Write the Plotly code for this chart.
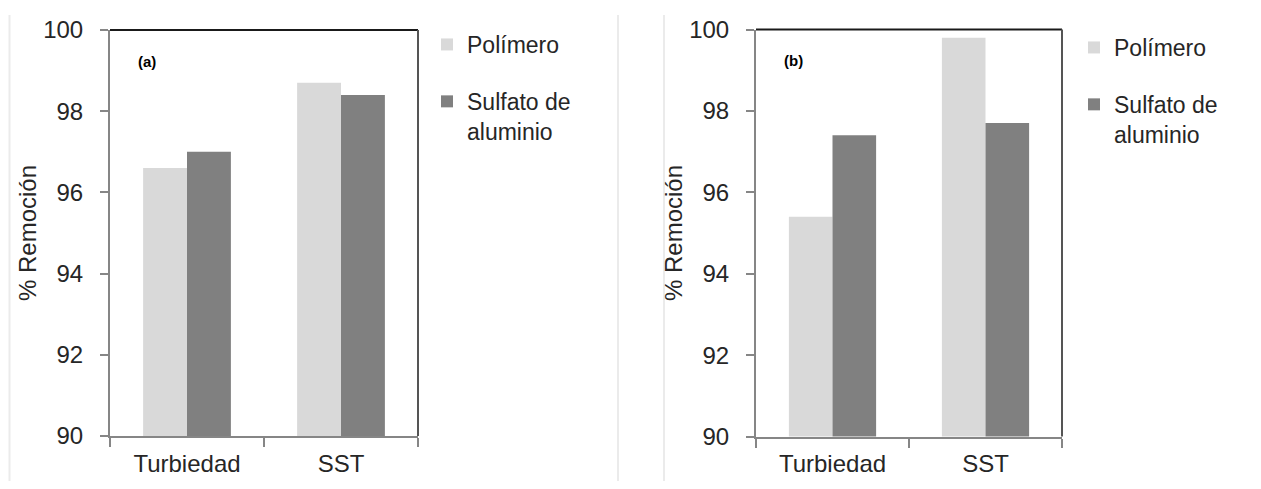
import plotly.graph_objects as go

categories = ["Turbiedad", "SST"]
polimero_a = [96.6, 98.7]
sulfato_a = [97.0, 98.4]
polimero_b = [95.4, 99.8]
sulfato_b = [97.4, 97.7]
series_names = ["Polímero", "Sulfato de<br>aluminio"]
panel_labels = ["(a)", "(b)"]
y_ticks = [90, 92, 94, 96, 98, 100]

# page body has an 8px margin: the figure sits at (8, 8) inside the 1261x489 window
OX, OY = 8, 8
W, H = 1261 - 2 * OX, 489 - 2 * OY


def fx(px):
    return (px - OX) / W


def fy(py):
    return 1 - (py - OY) / H


FONT = "Liberation Sans, Arial, sans-serif"
TXT = "#262626"
LIGHT = "#d9d9d9"
DARK = "#808080"
AXIS = "#868686"

fig = go.Figure()

for i, (p, s) in enumerate([(polimero_a, sulfato_a), (polimero_b, sulfato_b)]):
    xa = "x" if i == 0 else "x2"
    ya = "y" if i == 0 else "y2"
    lg = "legend" if i == 0 else "legend2"
    fig.add_trace(go.Bar(x=categories, y=p, name=series_names[0], marker_color=LIGHT,
                         marker_line_width=0, xaxis=xa, yaxis=ya, legend=lg,
                         legendgroup=f"p{i}"))
    fig.add_trace(go.Bar(x=categories, y=s, name=series_names[1], marker_color=DARK,
                         marker_line_width=0, xaxis=xa, yaxis=ya, legend=lg,
                         legendgroup=f"s{i}"))

doms_x = [[fx(110), fx(418)], [fx(756), fx(1062)]]
doms_y = [[fy(436), fy(30)], [fy(436.5), fy(29.5)]]

axis_common = dict(linecolor=AXIS, linewidth=2, showline=True, showgrid=False, zeroline=False,
                   ticks="outside", tickcolor=AXIS, tickwidth=2, automargin=False,
                   tickfont=dict(family=FONT, size=24, color=TXT))

layout = dict(
    template="none",
    width=W, height=H,
    margin=dict(l=0, r=0, t=0, b=0, autoexpand=False),
    paper_bgcolor="white", plot_bgcolor="white",
    barmode="group", bargap=0.43, bargroupgap=0,
    showlegend=True,
    font=dict(family=FONT, size=22, color=TXT),
)
for i in range(2):
    sx = "" if i == 0 else "2"
    layout[f"xaxis{sx}"] = dict(axis_common, domain=doms_x[i], range=[-0.5, 1.5],
                                 tickson="boundaries", ticklen=9, ticklabelstandoff=5,
                                 anchor=f"y{sx}")
    layout[f"yaxis{sx}"] = dict(axis_common, domain=doms_y[i], range=[90, 100],
                                 tickvals=y_ticks, ticklen=8, ticklabelstandoff=12,
                                 anchor=f"x{sx}",
                                 title=dict(text="% Remoción", standoff=0,
                                            font=dict(family=FONT, size=24, color=TXT)))

leg_common = dict(font=dict(family=FONT, size=23, color=TXT), bgcolor="rgba(0,0,0,0)",
                  xanchor="left", yanchor="top", traceorder="grouped",
                  tracegroupgap=24, valign="top", itemclick=False, borderwidth=0)
layout["legend"] = dict(leg_common, x=fx(427), y=fy(23))
layout["legend2"] = dict(leg_common, x=fx(1074), y=fy(26))

fig.update_layout(**layout)

# plot-area border: black top, dark right
for i in range(2):
    sx = "" if i == 0 else "2"
    fig.add_shape(type="line", xref=f"x{sx} domain", yref=f"y{sx} domain",
                  x0=0, x1=1, y0=1, y1=1, line=dict(color="#1a1a1a", width=2))
    fig.add_shape(type="line", xref=f"x{sx} domain", yref=f"y{sx} domain",
                  x0=1, x1=1, y0=0, y1=1, line=dict(color="#555555", width=2))

label_pos = [(147, 62), (793, 60)]
for i in range(2):
    fig.add_annotation(text=f"<b>{panel_labels[i]}</b>", xref="paper", yref="paper",
                       x=fx(label_pos[i][0]), y=fy(label_pos[i][1]),
                       xanchor="center", yanchor="middle",
                       showarrow=False, font=dict(family=FONT, size=15, color="black"))

# light separator lines of the chart frames
for xp in [9.5, 618, 664]:
    fig.add_shape(type="line", xref="paper", yref="paper", x0=fx(xp), x1=fx(xp),
                  y0=fy(489), y1=fy(15), line=dict(color="#ebebeb", width=2))

fig.write_html("out.html", config={"displayModeBar": False})
